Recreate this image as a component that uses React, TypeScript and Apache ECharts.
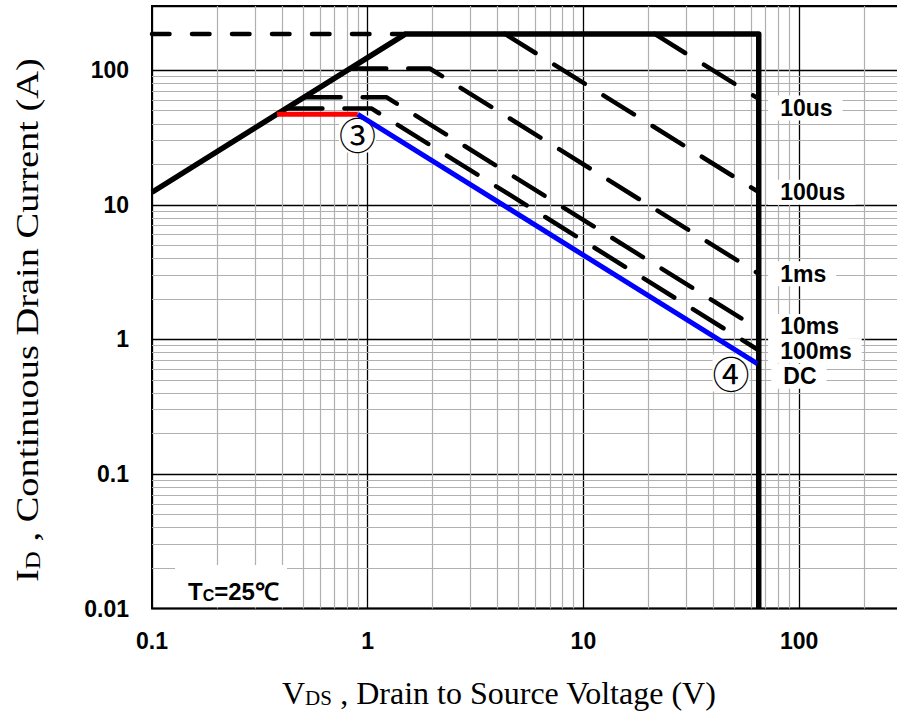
import React, { useEffect, useRef } from 'react';
import * as echarts from 'echarts';

// ---- axis ranges and tick labels ----
const xMin = 0.1;
const xMax = 300;
const yMin = 0.01;
const yMax = 300;
const xDecades = [0.1, 1, 10, 100];
const yDecades = [0.01, 0.1, 1, 10];
const minorMultipliers = [2, 3, 4, 5, 6, 7, 8, 9];
const xExtraMinor = [200];

// ---- curves (V, A) ----
const soaLimit = [[0.1, 12.4], [1.5, 186], [65, 186], [65, 0.01]];
const pulseCurrentLimit = [[0.1, 186], [1.5, 186]];
const pulse10us = [[21.4, 186], [65, 61.2]];
const pulse100us = [[4.33, 186], [65, 12.4]];
const pulse1ms = [[0.83, 103], [1.94, 103], [65, 3.07]];
const pulse10ms = [[0.51, 63], [1.22, 63], [65, 1.19]];
const pulse100ms = [[0.42, 52], [1.04, 52], [65, 0.83]];
const dcFlat = [[0.38, 47], [0.9, 47]];
const dcPower = [[0.9, 47], [64, 0.66]];
const curveLabels = ['10us', '100us', '1ms', '10ms', '100ms', 'DC'];

const SANS = '"Liberation Sans", Arial, sans-serif';
const SERIF = '"Liberation Serif", "Times New Roman", serif';

const decadeFormatter = (v: number) => {
  const l = Math.log10(v);
  return Math.abs(l - Math.round(l)) < 1e-6 ? String(parseFloat(v.toPrecision(6))) : '';
};

export default function App() {
  const ref = useRef<HTMLDivElement>(null);
  useEffect(() => {
    if (!ref.current) return;
    const chart = echarts.init(ref.current, null, { renderer: 'svg' });

    const xMinor = xDecades.slice(0, 3).flatMap((d) => minorMultipliers.map((m) => +(d * m).toPrecision(6))).concat(xExtraMinor);
    const yMinor = yDecades.flatMap((d) => minorMultipliers.map((m) => +(d * m).toPrecision(6)));

    const endMark = (data: number[][], text: string, offset: number[]) => ({
      symbol: 'circle',
      symbolSize: 0,
      silent: true,
      animation: false,
      z: 6,
      data: [
        {
          coord: data[data.length - 1],
          label: {
            show: true,
            position: 'right',
            distance: 0,
            offset,
            formatter: text,
            color: '#000',
            fontFamily: SANS,
            fontWeight: 'bold',
            fontSize: 23,
            lineHeight: 21,
            backgroundColor: '#fff',
            padding: [2, 10, 2, 12],
          },
        },
      ],
    });

    const dashed = (name: string, data: number[][], label: string, offset: number[]) => ({
      name,
      type: 'line',
      data,
      z: 3,
      symbol: 'none',
      showSymbol: false,
      silent: true,
      lineStyle: { color: '#000', width: 4.5, type: [36, 22], cap: 'round', join: 'round' },
      markPoint: endMark(data, label, offset),
    });

    const titleRich = {
      v: { fontFamily: SERIF, fontSize: 31, fill: '#000', color: '#000', verticalAlign: 'bottom' },
      s: { fontFamily: SERIF, fontSize: 20, fill: '#000', color: '#000', verticalAlign: 'bottom' },
    };

    const option: any = {
      animation: false,
      backgroundColor: '#fff',
      grid: {
        left: 152,
        top: 6,
        width: 750,
        height: 602.5,
        show: true,
        borderColor: '#000',
        borderWidth: 2,
        backgroundColor: 'transparent',
        containLabel: false,
        outerBoundsMode: 'none',
      },
      xAxis: {
        type: 'log',
        logBase: 10,
        min: xMin,
        max: xMax,
        name: '{v|V}{s|DS}{v| , Drain to Source Voltage (V)}',
        nameLocation: 'middle',
        nameGap: 68,
        nameTextStyle: {
          fontSize: 32,
          fontFamily: SERIF,
          color: '#000',
          padding: [0, 56, 0, 0],
          rich: {
            v: { fontFamily: SERIF, fontSize: 32, color: '#000', verticalAlign: 'bottom' },
            s: { fontFamily: SERIF, fontSize: 21, color: '#000', verticalAlign: 'bottom' },
          },
        },
        axisLine: { show: false },
        axisTick: { show: false },
        axisLabel: {
          formatter: decadeFormatter,
          fontFamily: SANS,
          fontWeight: 'bold',
          fontSize: 23,
          color: '#000',
          margin: 21,
        },
        splitLine: { show: true, lineStyle: { color: '#000', width: 1.3 } },
      },
      yAxis: {
        type: 'log',
        logBase: 10,
        min: yMin,
        max: yMax,
        axisLine: { show: false },
        axisTick: { show: false },
        axisLabel: {
          formatter: decadeFormatter,
          fontFamily: SANS,
          fontWeight: 'bold',
          fontSize: 23,
          color: '#000',
          margin: 23,
        },
        splitLine: { show: true, lineStyle: { color: '#000', width: 1.3 } },
      },
      series: [
        {
          name: 'minor grid',
          type: 'line',
          data: [],
          z: 1,
          silent: true,
          markLine: {
            z: 1,
            silent: true,
            animation: false,
            symbol: ['none', 'none'],
            label: { show: false },
            emphasis: { disabled: true },
            lineStyle: { color: '#b0b0b0', width: 1.2, type: 'solid' },
            data: [
              ...xMinor.map((v) => ({ xAxis: v })),
              ...yMinor.map((v) => ({ yAxis: v })),
            ],
          },
        },
        {
          name: 'SOA limit',
          type: 'line',
          data: soaLimit,
          z: 3,
          symbol: 'none',
          showSymbol: false,
          silent: true,
          lineStyle: { color: '#000', width: 5.5, type: 'solid', join: 'round' },
        },
        {
          name: 'IDM',
          type: 'line',
          data: pulseCurrentLimit,
          z: 3,
          symbol: 'none',
          showSymbol: false,
          silent: true,
          lineStyle: { color: '#000', width: 4.5, type: [17.5, 22.5], cap: 'round' },
        },
        dashed('10us', pulse10us, curveLabels[0], [9.4, 9]),
        dashed('100us', pulse100us, curveLabels[1], [9.4, 0]),
        dashed('1ms', pulse1ms, curveLabels[2], [9.4, 0]),
        dashed('10ms', pulse10ms, curveLabels[3], [9.4, -2.8]),
        dashed('100ms', pulse100ms, curveLabels[4], [9.4, 0.6]),
        {
          name: 'DC flat',
          type: 'line',
          data: dcFlat,
          z: 3,
          symbol: 'none',
          showSymbol: false,
          silent: true,
          lineStyle: { color: '#ff0000', width: 5, type: 'solid' },
        },
        {
          name: 'DC',
          type: 'line',
          data: dcPower,
          z: 3,
          symbol: 'none',
          showSymbol: false,
          silent: true,
          lineStyle: { color: '#0000ff', width: 5, type: 'solid' },
          markPoint: endMark(dcPower, curveLabels[5], [14, 12.5]),
        },
      ],
      graphic: [
        {
          type: 'text',
          z: 5,
          x: 28,
          y: 320,
          rotation: Math.PI / 2,
          scaleX: 1.24,
          style: {
            text: '{v|I}{s|D}{v| , Continuous Drain Current (A)}',
            align: 'center',
            verticalAlign: 'middle',
            rich: titleRich,
          },
        },
        {
          type: 'group',
          z: 10,
          children: [
            { type: 'rect', z: 10, shape: { x: 175, y: 565, width: 112, height: 42 }, style: { fill: '#fff' } },
            {
              type: 'text',
              z: 11,
              x: 188,
              y: 591,
              style: {
                text: '{t|T}{c|C}{t|=25℃}',
                align: 'left',
                verticalAlign: 'middle',
                rich: {
                  t: { fontFamily: SANS, fontWeight: 'bold', fontSize: 24, fill: '#000', verticalAlign: 'bottom' },
                  c: { fontFamily: SANS, fontWeight: 'bold', fontSize: 16, fill: '#000', verticalAlign: 'bottom' },
                },
              },
            },
          ],
        },
        {
          type: 'text',
          z: 2,
          x: 357.5,
          y: 134,
          style: {
            text: '③',
            font: '37px "Noto Sans CJK JP"',
            fill: '#000',
            align: 'center',
            verticalAlign: 'middle',
            backgroundColor: '#fff',
          },
        },
        {
          type: 'text',
          z: 2,
          x: 731,
          y: 373,
          style: {
            text: '④',
            font: '37px "Noto Sans CJK JP"',
            fill: '#000',
            align: 'center',
            verticalAlign: 'middle',
            backgroundColor: '#fff',
          },
        },
      ],
    };

    chart.setOption(option);
    return () => chart.dispose();
  }, []);

  return (
    <div
      ref={ref}
      style={{ position: 'absolute', left: 0, top: 0, width: 897, height: 711, overflow: 'hidden', background: '#fff' }}
    />
  );
}
